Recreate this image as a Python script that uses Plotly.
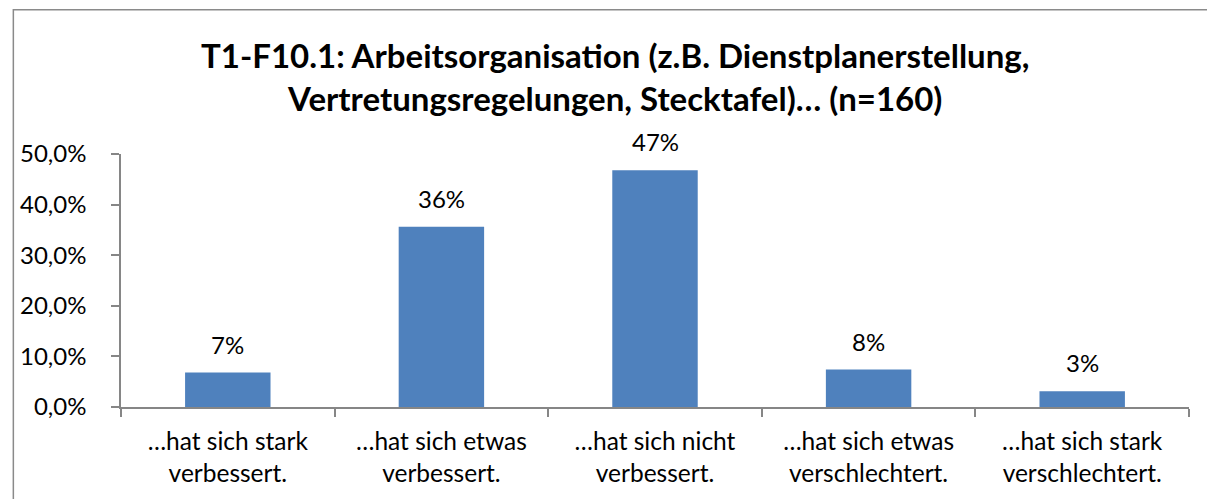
import plotly.graph_objects as go

categories = ["…hat sich stark<br>verbessert.", "…hat sich etwas<br>verbessert.",
              "…hat sich nicht<br>verbessert.", "…hat sich etwas<br>verschlechtert.",
              "…hat sich stark<br>verschlechtert."]
values = [6.8, 35.6, 46.8, 7.4, 3.1]
value_labels = ["7%", "36%", "47%", "8%", "3%"]
y_ticks = [0, 10, 20, 30, 40, 50]
y_tick_labels = ["0,0%", "10,0%", "20,0%", "30,0%", "40,0%", "50,0%"]
title_text = ("T1-F10.1: Arbeitsorganisation (z.B. Dienstplanerstellung,<br>"
              "Vertretungsregelungen, Stecktafel)… (n=160)")

FONT = "Lato"
AX = "#868686"

fig = go.Figure()
fig.add_trace(go.Bar(x=categories, y=values, marker=dict(color="#4F81BD", line=dict(width=0)),
                     hoverinfo="skip"))

for c, v, t in zip(categories, values, value_labels):
    fig.add_annotation(x=c, y=v, text=t, showarrow=False, yanchor="bottom", yshift=12,
                       font=dict(family=FONT, size=24, color="#000"))

fig.add_annotation(xref="paper", yref="paper", x=0.463, y=1.305, text=title_text,
                   showarrow=False, xanchor="center", yanchor="middle", align="center",
                   font=dict(family=FONT, size=33, color="#000", weight="bold"))

fig.update_layout(
    width=1215, height=499,
    margin=dict(l=110, r=34, t=146, b=100),
    paper_bgcolor="white", plot_bgcolor="white",
    bargap=0.6, showlegend=False,
    font=dict(family=FONT, size=24, color="#000"),
)
fig.update_xaxes(type="category", tickson="boundaries", ticks="outside", ticklen=8,
                 tickcolor=AX, tickwidth=1.5, showline=True, linecolor=AX, linewidth=1.5,
                 showgrid=False, ticklabelstandoff=12,
                 tickfont=dict(family=FONT, size=24.5, color="#000"))
fig.update_yaxes(range=[0, 50], tickvals=y_ticks, ticktext=y_tick_labels, ticks="outside",
                 ticklen=8, tickcolor=AX, tickwidth=1.5, showline=True, linecolor=AX,
                 linewidth=1.5, showgrid=False, zeroline=False, ticklabelstandoff=20,
                 tickfont=dict(family=FONT, size=24, color="#000"))

fig.add_shape(type="rect", xref="paper", yref="paper", x0=-0.1008, y0=-0.6, x1=1.2, y1=1.570,
              line=dict(color="#8a8a8a", width=1.5), fillcolor="rgba(0,0,0,0)", layer="below")

fig.write_html("out.html")
